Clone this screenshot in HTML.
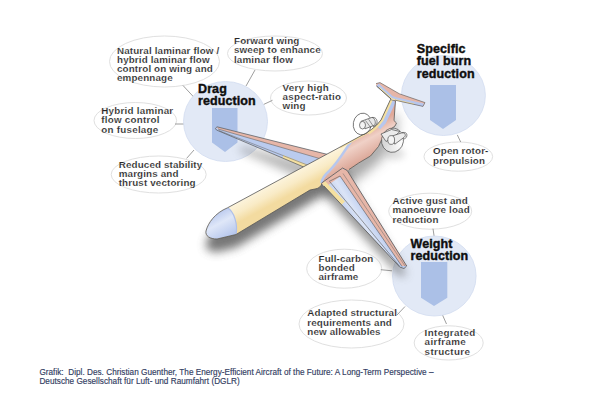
<!DOCTYPE html>
<html><head><meta charset="utf-8">
<style>
html,body{margin:0;padding:0;background:#fff;width:600px;height:401px;overflow:hidden}
svg{display:block}
text{font-family:"Liberation Sans",sans-serif}
.l{font-size:9.8px;font-weight:bold;fill:#262626;stroke:#fff;stroke-width:0.15;letter-spacing:0.15px}
.h{font-size:12.5px;font-weight:bold;fill:#0e0e0e;stroke:#0e0e0e;stroke-width:0.4;letter-spacing:0.1px}
.e{fill:#fff;stroke:#e0e0e0;stroke-width:1}
.c{fill:#e2e9f6;stroke:#d2dcf0;stroke-width:0.8}
.a{fill:#abc0e7}
.k{stroke:#858585;stroke-width:0.8;fill:none}
.cap{font-size:8.2px;fill:#323d62;stroke:#323d62;stroke-width:0.15;letter-spacing:0.02px}
</style></head>
<body>
<svg width="600" height="401" viewBox="0 0 600 401">
<defs>
<filter id="blur" x="-20%" y="-20%" width="140%" height="140%"><feGaussianBlur stdDeviation="3.5"/></filter>
</defs>

<!-- label ellipses -->
<ellipse class="e" cx="164.5" cy="61.5" rx="55" ry="25.5"/>
<ellipse class="e" cx="275" cy="53.5" rx="47.5" ry="17.5"/>
<ellipse class="e" cx="308.5" cy="98" rx="38" ry="17"/>
<ellipse class="e" cx="135.3" cy="120.5" rx="41.3" ry="18"/>
<ellipse class="e" cx="158.7" cy="174.5" rx="47.5" ry="18.5"/>
<ellipse class="e" cx="458.3" cy="156.6" rx="34.3" ry="14.6"/>
<ellipse class="e" cx="430.2" cy="211.2" rx="41.5" ry="18"/>
<ellipse class="e" cx="344.2" cy="268.7" rx="37.5" ry="19.5"/>
<ellipse class="e" cx="351.5" cy="324" rx="52.5" ry="24"/>
<ellipse class="e" cx="448.7" cy="342.9" rx="34.5" ry="17.1"/>

<!-- connectors -->
<g class="k">
<line x1="183" y1="85.5" x2="193.7" y2="97"/>
<line x1="255" y1="70" x2="246" y2="86"/>
<line x1="263.5" y1="104.5" x2="272.5" y2="100.3"/>
<line x1="175" y1="124" x2="185" y2="124"/>
<line x1="186.6" y1="158.4" x2="194" y2="150"/>
<line x1="457.3" y1="134.9" x2="460.7" y2="142"/>
<line x1="433" y1="228.7" x2="434.2" y2="236.7"/>
<line x1="380.8" y1="269.7" x2="392" y2="270.8"/>
<line x1="405" y1="306.5" x2="397" y2="315"/>
<line x1="442.5" y1="315" x2="446.5" y2="324"/>
</g>

<!-- circles -->
<ellipse class="c" cx="225.5" cy="121.5" rx="42" ry="40"/>
<ellipse class="c" cx="443.4" cy="95.5" rx="42" ry="40"/>
<ellipse class="c" cx="434.3" cy="276" rx="41.8" ry="40"/>
<polygon class="a" points="212,108 237.5,108 237.5,142.5 225,152 212,142.5"/>
<polygon class="a" points="430,85 456,85 456,120 443,129 430,120"/>
<polygon class="a" points="421,262 447.3,262 447.3,297.8 434,306 421,297.8"/>

<!-- airplane -->
<!--PLANE-->
<defs>
<linearGradient id="gy" gradientUnits="userSpaceOnUse" x1="259" y1="178" x2="273" y2="204">
<stop offset="0" stop-color="#f5e0a6"/><stop offset="0.3" stop-color="#fdf6e2"/><stop offset="0.7" stop-color="#f9ebc6"/><stop offset="1" stop-color="#f3dba0"/>
</linearGradient>
<linearGradient id="gp" gradientUnits="userSpaceOnUse" x1="356" y1="134" x2="370" y2="160">
<stop offset="0" stop-color="#e0a999"/><stop offset="0.35" stop-color="#f0d1c7"/><stop offset="1" stop-color="#d9a191"/>
</linearGradient>
<linearGradient id="gn" gradientUnits="userSpaceOnUse" x1="212" y1="214" x2="226" y2="240">
<stop offset="0" stop-color="#b8c8ee"/><stop offset="0.4" stop-color="#dfe7f8"/><stop offset="1" stop-color="#b3c4ec"/>
</linearGradient>
<linearGradient id="gw" gradientUnits="userSpaceOnUse" x1="340" y1="214" x2="362" y2="200">
<stop offset="0" stop-color="#b3c5ec"/><stop offset="0.55" stop-color="#dbe4f6"/><stop offset="1" stop-color="#b9caee"/>
</linearGradient>
<filter id="sblur" x="-30%" y="-30%" width="160%" height="160%"><feGaussianBlur stdDeviation="5"/></filter>
<filter id="sblur3" x="-50%" y="-50%" width="200%" height="200%"><feGaussianBlur stdDeviation="6"/></filter>
<filter id="sblur2" x="-50%" y="-50%" width="200%" height="200%"><feGaussianBlur stdDeviation="3"/></filter>
<clipPath id="cf"><path d="M206,231 C208,223 215,213 227.5,207.8 L360,136.3 C368,132.5 376,127 381,120 L390.5,99.5 L395.5,100.8 L394,120.6 L396.5,123 L395,126 L391,129 L381.5,140 L378.5,146.5 L370.5,156 L358.7,163 L349,169.5 L322,183 C321.5,186 319,188.5 315,189 L310,190 L236,234.5 L217,239 C210,239 205,236 206,231 Z"/></clipPath>
<clipPath id="clw"><path d="M217,126.8 L335,156.3 L315,171.8 L216.5,130 Q214,128.4 217,126.8 Z"/></clipPath>
<clipPath id="crw"><path d="M321.6,183 L342.6,168 L347.2,170.5 L406.7,266 L404,268.5 L399.7,267 L324,186 Z"/></clipPath>
<clipPath id="cst"><path d="M376,83.6 L380,82.6 L399.4,93.8 L425,102.6 L423,106.4 L395,100.2 L391,99 L376.5,86 Z"/></clipPath>
</defs>
<!-- shadow -->
<g filter="url(#sblur)" fill="#555" opacity="0.8" transform="translate(0,13)">
<path d="M206,231 C208,223 215,213 227.5,207.8 L340,147 L349,169 L322,183 L310,190 L236,234.5 L217,239 C210,239 205,236 206,231 Z"/>
</g>
<g filter="url(#sblur3)" fill="#555" opacity="0.5" transform="translate(2,14)">
<path d="M335,150 L360,136.3 L381,120 L390.5,99.5 L395.5,100.8 L394,121 L391,129 L378.5,146.5 L358.7,163 L349,169.5 L322,183 Z"/>
</g>
<g filter="url(#sblur)" fill="#555" opacity="0.6" transform="translate(0,9)"><path d="M321.6,183 L342.6,168 L347.2,170.5 L406.7,266 L399.7,267 L324,186 Z"/></g>
<g filter="url(#sblur)" fill="#555" opacity="0.42" transform="translate(0,13)"><path d="M240,133 L335,156.3 L315,171.8 L240,138 Z"/></g>
<ellipse cx="395" cy="154" rx="10" ry="6" fill="#888" opacity="0.25" filter="url(#sblur2)"/>
<!-- left wing -->
<g clip-path="url(#clw)">
<rect x="210" y="120" width="130" height="60" fill="#bacbee"/>
<path d="M217,126.8 L335,156.3 L335,163 L218,129 Z" fill="#e6b6a8"/>
<path d="M283,155 L315,167.7 L318,175 L283,161 Z" fill="#f5e0a0"/>
</g>
<path d="M218,129 L335,163" stroke="#666" stroke-width="0.6" fill="none"/>
<path d="M219,130.6 L315,168" stroke="#6b6b6b" stroke-width="0.55" fill="none"/>
<path d="M217,126.8 L335,156.3 M315,171.8 L216.5,130 Q214,128.4 217,126.8" stroke="#555" stroke-width="0.7" fill="none"/>
<!-- fuselage -->
<g clip-path="url(#cf)">
<rect x="200" y="95" width="200" height="150" fill="url(#gy)"/>
<path d="M351.3,141 C345,150 339,161 329.5,170.7 C325,174.5 322,178.5 321.6,183 L360,200 L420,140 L400,95 Z" fill="url(#gp)"/>
<path d="M351.3,141 C345,150 339,161 329.5,170.7 C325,174.5 322,178.5 321.6,183" stroke="#b7c7ee" stroke-width="2.6" fill="none"/>
<path d="M376,125.5 L381,120 L390.5,99.5" stroke="#b7c7ee" stroke-width="11.5" fill="none"/>
<path d="M340,147 L360,136.3 C368,132.5 376,127 381,120 L390.5,99.5" stroke="#f5e0a0" stroke-width="2.6" fill="none"/>
<path d="M368,132.5 C372,130 376,127 381,120 L390.5,99.5" stroke="#f5e0a0" stroke-width="4.6" fill="none"/>
<path d="M206,231 C208,223 215,213 227.5,207.8 C234,211.5 238,224 236,234.5 L217,239 C210,239 205,236 206,231 Z" fill="url(#gn)"/>
<path d="M227.5,207.8 C234,211.5 238,224 236,234.5" stroke="#aebfe9" stroke-width="1.2" fill="none"/>
</g>
<path d="M206,231 C208,223 215,213 227.5,207.8 L360,136.3 C368,132.5 376,127 381,120 L390.5,99.5 L395.5,100.8 L394,120.6 L396.5,123 L395,126 L391,129 M381.5,140 L378.5,146.5 L370.5,156 L358.7,163 L349,169.5 M322,183 C321.5,186 319,188.5 315,189 L310,190 L236,234.5 L217,239 C210,239 205,236 206,231" stroke="#555" stroke-width="0.8" fill="none"/>
<!-- T-tail -->
<g clip-path="url(#cst)">
<rect x="370" y="80" width="60" height="30" fill="#e6b6a8"/>
<path d="M377.5,84.8 L392,97.8 L395.8,99 L423.5,105.2" stroke="#b7c7ee" stroke-width="3.6" fill="none"/>
<path d="M379,87.5 L391.5,98.8 L395.5,100 L414,104.2" stroke="#f5e0a0" stroke-width="1.5" fill="none"/>
</g>
<path d="M376,83.6 L380,82.6 L399.4,93.8 L425,102.6 L423,106.4 L395,100.2 M391,99 L376.5,86 Z" stroke="#555" stroke-width="0.6" fill="none"/>
<!-- right wing -->
<g clip-path="url(#crw)">
<rect x="315" y="165" width="95" height="105" fill="url(#gw)"/>
<path d="M349,169 L407,266 L402,266 L340,176 L335,170 Z" fill="#e6b6a8"/>
<path d="M321.6,183 L342.6,168" stroke="#e6b6a8" stroke-width="11" fill="none"/>
<path d="M323,183 L343,203.5" stroke="#f5e0a0" stroke-width="5.4" fill="none"/>
</g>
<path d="M329,181.5 L340,176 L402,266.5" stroke="#555" stroke-width="0.6" fill="none"/>
<path d="M343,173.5 L405,266" stroke="#6a6a6a" stroke-width="0.5" fill="none"/>
<path d="M330,182 L399.5,266" stroke="#5a5a5a" stroke-width="0.6" fill="none"/>
<path d="M321.6,183 L342.6,168 L347.2,170.5 L406.7,266 L404,268.5 L399.7,267 L324,186" stroke="#555" stroke-width="0.8" fill="none"/>

<!-- engines -->
<g stroke="#4a4a4a" stroke-width="0.7" fill="none">
<ellipse cx="362.3" cy="124" rx="9" ry="10.9" transform="rotate(10 362.3 124)" fill="#fff" fill-opacity="0.3"/>
<path d="M361,121.3 L371.7,117.5 C374.8,117.3 376.2,122.5 374.7,125.2 L365,128.8 Z" fill="#e8e8e8"/>
<path d="M371.7,117.5 C375.5,116.8 377.5,119.5 377,123 C376.5,125 375,126.3 373.3,126.6"/>
<path d="M365.5,120.5 L371,128 M368.5,119.2 L373.5,126.5" stroke-width="0.55"/>
<ellipse cx="362.5" cy="125.2" rx="3" ry="3.8" fill="#f4f4f4"/>
<ellipse cx="392.5" cy="140.2" rx="11" ry="12.2" transform="rotate(8 392.5 140.2)" fill="#fff" fill-opacity="0.45"/>
<path d="M381,134 L391.5,129.5 L400,131.5 L393,137.5 L386,141.5 Z" fill="#ebebeb"/>
<path d="M391.5,136.2 L402,132.8 C405,132.3 406.3,135.5 404.5,137 L394.8,144.2 Z" fill="#ececec"/>
<path d="M402,132.8 C406,131.5 407.8,134 406.5,137 C405.8,138.2 404.8,138.8 403.8,139"/>
<ellipse cx="391.2" cy="140" rx="3.4" ry="4.4" fill="#f4f4f4"/>
</g>

<!--/PLANE-->

<!-- titles -->
<text class="h" x="198" y="92.8">Drag</text>
<text class="h" x="198" y="105.2">reduction</text>
<text class="h" x="416.8" y="53">Specific</text>
<text class="h" x="416.8" y="65">fuel burn</text>
<text class="h" x="416.8" y="77.5">reduction</text>
<text class="h" x="410.5" y="247.5">Weight</text>
<text class="h" x="410.5" y="259.5">reduction</text>

<!-- labels -->
<text class="l" x="117" y="53.7">Natural laminar flow /<tspan x="117" y="62.9">hybrid laminar flow</tspan><tspan x="117" y="72.1">control on wing and</tspan><tspan x="117" y="81.3">empennage</tspan></text>
<text class="l" x="234" y="44.2">Forward wing<tspan x="234" y="53.4">sweep to enhance</tspan><tspan x="234" y="62.6">laminar flow</tspan></text>
<text class="l" x="282.5" y="90.8" style="letter-spacing:0.26px">Very high<tspan x="282.5" y="100">aspect-ratio</tspan><tspan x="282.5" y="109.2">wing</tspan></text>
<text class="l" x="101.3" y="114.2" style="letter-spacing:0.25px">Hybrid laminar<tspan x="101.3" y="123.4">flow control</tspan><tspan x="101.3" y="132.6">on fuselage</tspan></text>
<text class="l" x="118.7" y="168">Reduced stability<tspan x="118.7" y="177.2">margins and</tspan><tspan x="118.7" y="186.4">thrust vectoring</tspan></text>
<text class="l" x="433" y="154.3">Open rotor-<tspan x="433" y="163.5">propulsion</tspan></text>
<text class="l" x="392.6" y="204.2">Active gust and<tspan x="392.6" y="213.4">manoeuvre load</tspan><tspan x="392.6" y="222.6">reduction</tspan></text>
<text class="l" x="318.5" y="261.7">Full-carbon<tspan x="318.5" y="270.9">bonded</tspan><tspan x="318.5" y="280.1">airframe</tspan></text>
<text class="l" x="307.3" y="316.4">Adapted structural<tspan x="307.3" y="325.6">requirements and</tspan><tspan x="307.3" y="334.8">new allowables</tspan></text>
<text class="l" x="424.6" y="336.1" style="letter-spacing:0.36px">Integrated<tspan x="424.6" y="345.3">airframe</tspan><tspan x="424.6" y="354.5">structure</tspan></text>

<!-- caption -->
<text class="cap" x="39.4" y="374.7">Grafik:&#160; Dipl. Des. Christian Guenther, The Energy-Efficient Aircraft of the Future: A Long-Term Perspective –<tspan x="39.4" y="384">Deutsche Gesellschaft für Luft- und Raumfahrt (DGLR)</tspan></text>
</svg>
</body></html>
